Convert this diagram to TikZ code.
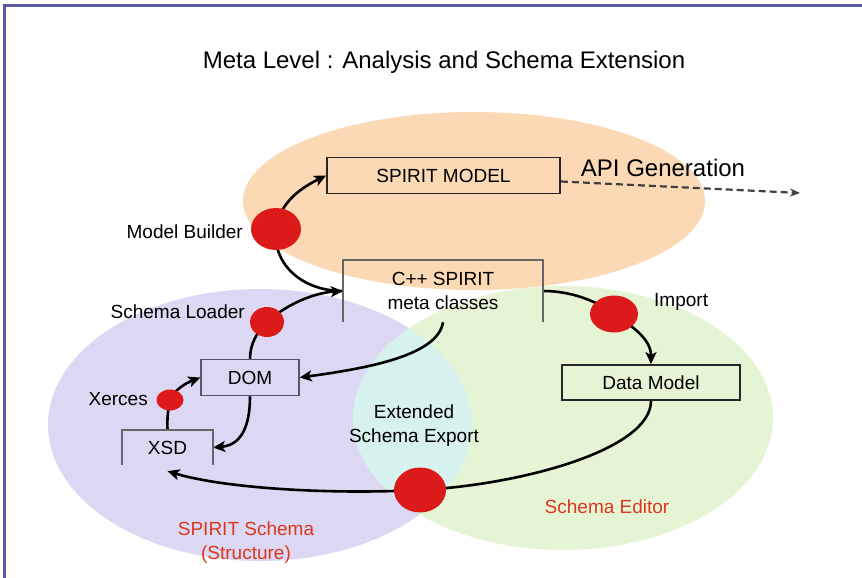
\documentclass[tikz,border=0pt]{standalone}
\usepackage{fontspec}
\setmainfont{Liberation Sans}
\usetikzlibrary{arrows.meta,shapes.geometric}
\definecolor{peach}{HTML}{FBD9B4}
\definecolor{lilac}{HTML}{DCD8F3}
\definecolor{mint}{HTML}{E6F4D6}
\definecolor{aqua}{HTML}{D6F1EE}
\definecolor{dotred}{HTML}{DC1A1A}
\definecolor{labelred}{HTML}{D9381E}
\definecolor{framecol}{HTML}{5B58A6}
\definecolor{boxgray}{HTML}{555566}
\pgfdeclarelayer{back}
\pgfdeclarelayer{mid}
\pgfsetlayers{back,mid,main}
\tikzset{
  txt/.style={font=\fontsize{19}{23}\selectfont, align=center, inner sep=0pt},
  boxed/.style={txt, draw=black!85, line width=1.8pt, minimum width=#1, minimum height=36pt},
  plain/.style={txt, minimum width=#1},
  hotspot/.style={ellipse, fill=dotred, draw=none, inner sep=0pt},
  flow/.style={line width=2.6pt, -{Stealth[length=12pt,width=11pt,inset=3pt]}},
  redlabel/.style={txt, text=labelred},
}
\begin{document}
\begin{tikzpicture}[x=1pt,y=-1pt]
\useasboundingbox (0,0) rectangle (862,578);

% regions
\begin{pgfonlayer}{back}
  \fill[white] (0,0) rectangle (862,578);
  \fill[peach] (474,201) ellipse [x radius=231, y radius=89];
  \fill[lilac] (260,425) ellipse [x radius=212, y radius=136];
  \fill[mint] (563,418) ellipse [x radius=210, y radius=132];
  \begin{scope}
    \clip (260,425) ellipse [x radius=212, y radius=136];
    \fill[aqua] (563,418) ellipse [x radius=210, y radius=132];
  \end{scope}
  % frame
  \draw[framecol, line width=3pt] (4,580) -- (4,6) -- (864,6);
\end{pgfonlayer}

% title
\node[txt, font=\fontsize{24}{28}\selectfont] (title) at (444,62) {Meta Level : Analysis and Schema Extension};

% boxes
\node[boxed=233pt] (model) at (443.5,175.5) {SPIRIT MODEL};
\node[plain=200pt, minimum height=62pt] (cpp) at (443,291) {C++ SPIRIT\\[1pt]meta classes};
\draw[line width=1.5pt, black!60] (cpp.south west) |- (cpp.north) -| (cpp.south east);
\node[boxed=98pt, draw=boxgray, line width=1.5pt] (dom) at (250,377.5) {DOM};
\node[plain=91pt, minimum height=35pt] (xsd) at (167.5,447.5) {XSD};
\draw[line width=1.5pt, black!60] (xsd.south west) |- (xsd.north) -| (xsd.south east);
\node[boxed=178pt, minimum height=35pt] (dm) at (651,382.5) {Data Model};

% hot spots
\node[hotspot, minimum width=50pt, minimum height=42pt] (mb) at (276,229) {};
\node[hotspot, minimum width=34pt, minimum height=30pt] (sl) at (267,322) {};
\node[hotspot, minimum width=27pt, minimum height=21pt] (xe) at (170,400) {};
\node[hotspot, minimum width=48pt, minimum height=37pt] (im) at (614,314) {};
\node[hotspot, minimum width=52pt, minimum height=45pt] (ex) at (420,490) {};

% connectors
\coordinate (apiend) at (800,193);
\begin{pgfonlayer}{mid}
  \draw[flow] (cpp.west) .. controls (300,291) and (272,262) .. (mb.center)
              .. controls (280,200) and (305,186) .. (model.west);
  \draw[flow] (dom.north) .. controls (250,345) and (256,333) .. (sl.center)
              .. controls (282,308) and (310,293) .. (cpp.west);
  \draw[flow] (cpp.south) .. controls (438,355) and (370,368) .. (dom.east);
  \draw[flow] (dom.south) .. controls (250,425) and (242,445) .. (xsd.east);
  \draw[flow] (xsd.north) .. controls (167,418) and (168,410) .. (xe.center)
              .. controls (174,390) and (186,383) .. (dom.west);
  \draw[flow] (cpp.east) .. controls (570,291) and (595,300) .. (im.center)
              .. controls (635,328) and (651,340) .. (dm.north);
  \draw[flow] (dm.south) .. controls (651,450) and (520,485) .. (ex.center)
              .. controls (320,495) and (220,487) .. ([yshift=-6pt]xsd.south);
  \draw[line width=2.2pt, black!75, dash pattern=on 7pt off 4pt,
        -{Stealth[length=10pt,width=8pt]}]
        ([yshift=-6pt]model.east) -- (apiend);
\end{pgfonlayer}

% labels
\node[txt, font=\fontsize{24}{28}\selectfont] (api) at (663,168) {API Generation};
\node[txt, anchor=east] (lmb) at (243,232) {Model Builder};
\node[txt, anchor=east] (lsl) at (245,312) {Schema Loader};
\node[txt, anchor=east] (lxe) at (148,399) {Xerces};
\node[txt, anchor=west] (lim) at (654,302) {Import};
\node[txt] (lex) at (414,426) {Extended\\[1pt]Schema Export};
\node[redlabel] (lse) at (607,507) {Schema Editor};
\node[redlabel] (lss) at (246,543) {SPIRIT Schema\\[1pt](Structure)};
\end{tikzpicture}
\end{document}
